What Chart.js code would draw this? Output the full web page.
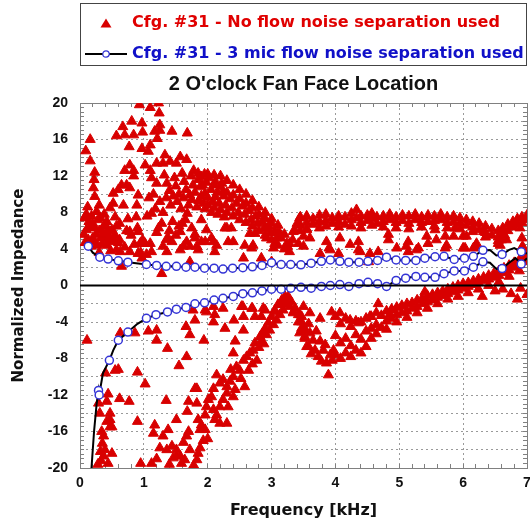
<!DOCTYPE html>
<html><head><meta charset="utf-8">
<script src="https://cdn.jsdelivr.net/npm/chart.js@4.4.1/dist/chart.umd.min.js"></script>
<style>html,body{margin:0;padding:0;background:#fff}</style>
</head><body>
<canvas id="c" width="530" height="523"></canvas>
<script>
// ---------- text ----------
const legendLabels = ["Cfg. #31 - No flow noise separation used", "Cfg. #31 - 3 mic flow noise separation used"];
const chartTitle = "2 O'clock Fan Face Location";
const xAxisTitle = "Frequency [kHz]";
const yAxisTitle = "Normalized Impedance";
const xTickValues = [0, 1, 2, 3, 4, 5, 6, 7];
const yTickValues = [-20, -16, -12, -8, -4, 0, 4, 8, 12, 16, 20];

// ---------- "No flow noise separation" (red triangles) [kHz, impedance] ----------
const noSepLowPos = [[0.09,14.75],[0.16,16.0],[0.16,13.65],[0.23,12.4],[0.22,11.6],[0.21,10.7],[0.23,9.75],[0.1,7.8],[0.07,7.4],[0.18,7.6],[0.2,6.8],[0.26,8.1],[0.28,7.2],[0.13,5.0],[0.1,6.1],[0.23,6.3],[0.34,6.1],[0.39,5.2],[0.42,4.4],[0.5,6.1],[0.52,5.2],[0.57,3.9],[0.6,4.7],[0.65,2.1],[0.78,5.9],[0.91,3.5],[0.97,3.0],[0.3,6.0],[0.33,5.2],[0.35,4.6],[0.37,6.5],[0.4,5.6],[0.42,7.0],[0.45,4.9],[0.48,3.8],[0.52,9.0],[0.52,10.1],[0.55,7.5],[0.6,10.5],[0.57,16.4],[0.65,11.0],[0.67,17.4],[0.7,16.5],[0.7,12.6],[0.73,11.0],[0.78,13.2],[0.78,10.7],[0.84,12.6],[0.84,12.0],[0.84,16.5],[0.81,18.0],[0.77,15.2],[0.68,8.8],[0.89,8.8],[0.91,9.9],[0.3,8.8],[0.38,7.8],[0.47,8.5],[0.62,6.8],[0.75,7.3],[0.8,5.5],[0.85,4.5],[0.9,6.3],[0.95,3.6],[0.98,5.0],[0.93,19.8],[0.97,17.8],[0.98,16.8],[0.97,15.0],[0.52,4.8],[0.57,6.5],[0.63,3.7],[0.78,3.7],[0.91,5.9],[0.94,4.6],[0.27,4.4],[0.2,5.2],[0.15,6.4],[0.12,8.6],[0.44,6.0],[0.55,5.5],[0.62,5.0],[0.7,4.2],[0.73,6.0],[0.88,7.5],[0.3,3.6],[0.25,5.6],[0.17,4.3],[0.06,5.6],[0.08,4.7],[0.14,7.0],[0.22,4.8],[0.32,7.4],[0.36,5.6],[0.4,6.6],[0.46,5.4]];
const noSepMidPos = [[1.1,19.5],[1.23,20],[1.24,18.9],[1.25,17.6],[1.25,17.0],[1.21,16.1],[1.17,16.9],[1.44,16.9],[1.68,16.7],[1.07,14.7],[1.1,15.4],[1.33,14.3],[1.41,13.6],[1.51,13.4],[1.57,14.1],[1.67,13.8],[1.3,13.4],[1.2,13.4],[1.02,13.2],[1.1,12.6],[1.32,12.1],[1.36,11.2],[1.4,10.4],[1.35,9.6],[1.42,8.8],[1.3,8.0],[1.48,11.8],[1.5,10.9],[1.55,10.0],[1.52,9.2],[1.58,8.4],[1.6,12.3],[1.63,11.4],[1.66,10.5],[1.62,9.6],[1.7,8.8],[1.68,7.9],[1.74,12.0],[1.77,11.0],[1.8,10.2],[1.75,9.4],[1.83,8.6],[1.85,11.6],[1.88,10.8],[1.9,9.8],[1.93,9.0],[1.95,12.2],[1.98,11.3],[1.2,11.2],[1.15,10.0],[1.25,9.2],[1.18,8.4],[1.08,9.6],[1.12,11.8],[1.05,7.6],[1.28,6.8],[1.45,7.0],[1.55,6.5],[1.65,7.2],[1.4,6.0],[1.5,5.5],[1.35,5.0],[1.2,5.8],[1.1,4.6],[1.04,3.4],[1.12,7.9],[1.23,6.3],[1.36,3.7],[1.44,4.8],[1.57,3.9],[1.67,4.8],[1.72,2.6],[1.8,5.6],[1.85,3.9],[1.9,4.8],[1.02,4.6],[1.12,3.7],[1.28,1.3],[1.3,4.3],[1.38,5.2],[1.57,5.9],[1.62,4.3],[1.72,4.3],[1.8,5.2],[1.83,4.3],[1.96,4.8],[1.98,6.1],[1.6,6.8],[1.75,6.3],[1.9,7.2],[1.46,9.8],[1.72,9.9],[1.86,9.3],[1.96,10.1],[1.78,12.6],[1.92,11.0],[1.85,12.3],[1.9,11.9],[2.02,11.8],[2.12,11.4],[2.22,11.2],[2.0,9.6],[2.12,9.7],[2.24,10.3],[1.96,8.4],[2.06,8.0],[2.16,7.8],[2.26,7.5]];
const noSepBandA = [[2.0,12.2],[2.1,12.1],[2.2,12.0],[2.3,11.5],[2.4,11.0],[2.5,10.5],[2.6,10.0],[2.7,9.3],[2.8,8.6],[2.9,8.0],[3.0,7.3],[3.1,6.6],[3.2,5.6],[3.28,4.6],[2.0,8.8],[2.1,8.5],[2.2,8.3],[2.3,8.0],[2.4,7.6],[2.5,7.2],[2.6,6.9],[2.7,6.5],[2.8,6.0],[2.9,5.5],[3.0,5.0],[3.1,4.4],[3.2,4.0],[3.28,3.7],[2.05,10.5],[2.15,10.2],[2.25,9.8],[2.35,9.5],[2.45,9.0],[2.55,8.7],[2.65,8.2],[2.75,7.6],[2.85,7.0],[2.95,6.5],[3.05,6.0],[3.15,5.2],[3.25,4.3],[2.1,11.0],[2.2,10.8],[2.3,10.2],[2.4,9.9],[2.5,9.5],[2.6,9.0],[2.7,8.5],[2.8,7.8],[2.9,7.3],[3.0,6.8],[3.1,5.8],[2.08,9.2],[2.18,9.0],[2.28,8.8],[2.38,8.5],[2.48,8.0],[2.58,7.8],[2.68,7.2],[2.78,6.8],[2.88,6.2],[2.98,5.8],[3.08,5.2],[3.33,5.0],[3.36,6.0],[3.4,6.8],[3.44,7.4],[2.06,5.2],[2.14,4.4],[2.3,6.3],[2.32,4.8],[2.56,3.0],[2.58,4.4],[2.71,4.4],[2.74,5.7],[2.9,6.3],[3.05,4.6],[3.13,5.7],[3.24,4.6],[3.34,5.9],[3.42,4.6],[2.09,4.8],[2.11,3.7],[2.27,6.3],[2.37,6.3],[2.4,4.8],[2.66,5.7],[2.69,4.1],[2.84,3.0],[3.0,2.6],[3.03,4.1],[2.92,5.2]];
const noSepBandB = [[3.45,7.5],[3.45,6.6],[3.45,6.0],[3.55,7.6],[3.55,6.9],[3.55,6.2],[3.65,7.3],[3.65,6.7],[3.75,7.7],[3.75,7.0],[3.75,6.3],[3.85,7.8],[3.85,7.1],[3.85,6.5],[3.95,7.4],[3.95,6.8],[4.05,7.6],[4.05,7.0],[4.05,6.4],[4.15,7.5],[4.15,6.7],[4.25,7.9],[4.25,7.2],[4.25,6.5],[4.33,8.3],[4.33,7.4],[4.4,7.6],[4.4,6.9],[4.4,6.3],[4.5,7.7],[4.5,7.1],[4.57,7.9],[4.57,7.3],[4.57,6.6],[4.65,7.5],[4.65,6.8],[4.75,7.6],[4.75,7.0],[4.75,6.4],[4.85,7.8],[4.85,7.2],[4.95,7.5],[4.95,6.9],[4.95,6.3],[5.05,7.7],[5.05,7.1],[5.15,7.6],[5.15,6.8],[5.15,6.2],[5.25,7.8],[5.25,7.2],[5.35,7.5],[5.35,6.9],[5.35,6.4],[5.45,7.7],[5.45,7.0],[5.55,7.6],[5.55,7.1],[5.55,6.5],[5.65,7.8],[5.65,7.2],[5.75,7.5],[5.75,6.9],[5.75,6.3],[5.85,7.6],[5.85,7.0],[5.95,7.4],[5.95,6.8],[5.95,6.2],[6.05,7.2],[6.05,6.6],[6.15,7.0],[6.15,6.4],[6.15,5.9],[6.25,6.8],[6.25,6.1],[6.35,6.5],[6.35,5.8],[6.35,5.3],[6.45,6.2],[6.45,5.5],[6.55,6.0],[6.55,5.3],[6.55,4.9],[6.62,6.3],[6.62,5.6],[6.7,6.7],[6.7,6.0],[6.78,7.0],[6.78,6.4],[6.85,7.3],[6.85,6.7],[6.92,7.5],[6.92,6.9],[7.0,7.7],[7.0,7.2]];
const noSepSparseHi = [[3.5,5.4],[3.55,6.1],[3.6,5.2],[3.76,3.5],[3.86,4.8],[3.9,4.1],[4.05,3.5],[4.23,4.5],[4.36,4.8],[4.39,3.7],[4.52,2.6],[4.67,3.7],[4.83,5.6],[4.96,4.1],[5.14,4.8],[5.14,3.7],[5.27,3.9],[5.43,5.4],[5.45,4.6],[5.56,6.1],[5.58,5.0],[5.72,5.4],[5.72,4.1],[5.85,5.4],[5.87,6.3],[6.0,5.4],[6.03,4.1],[6.16,4.1],[6.21,4.6],[6.6,5.0],[6.63,5.6],[6.89,6.3],[6.92,5.2],[6.93,4.3],[3.5,4.3],[3.92,3.9],[4.07,5.2],[4.36,3.9],[4.54,3.5],[4.83,5.0],[5.11,4.3],[5.3,4.1],[5.74,4.4],[6.0,4.1],[6.05,5.4],[6.19,4.3],[6.58,4.4],[6.65,5.5],[6.92,4.1],[6.32,5.9],[6.55,4.6],[6.68,5.0]];
const noSepLowNeg = [[0.11,-6.0],[0.29,-12.9],[0.31,-14.0],[0.34,-16.0],[0.37,-16.5],[0.35,-17.3],[0.39,-18.0],[0.37,-18.7],[0.5,-18.4],[0.44,-19.5],[0.42,-14.9],[0.47,-14.0],[0.47,-14.7],[0.47,-15.5],[0.44,-11.9],[0.42,-12.7],[0.6,-9.2],[0.62,-12.4],[0.77,-12.7],[0.9,-14.9],[0.95,-19.5],[0.5,-15.5],[0.33,-19.2],[0.4,-9.6],[0.55,-9.3],[0.32,-18.2],[0.28,-19.6]];
const noSepMidNeg = [[1.17,-15.3],[1.15,-16.2],[1.12,-19.5],[1.3,-16.5],[1.38,-15.8],[1.36,-18.0],[1.44,-17.6],[1.51,-18.0],[1.51,-14.7],[1.51,-18.7],[1.59,-19.5],[1.67,-16.5],[1.7,-16.0],[1.72,-18.0],[1.85,-18.4],[1.88,-17.8],[1.83,-19.1],[1.57,-18.7],[1.46,-18.9],[1.64,-19.1],[1.25,-17.8],[1.2,-19.0],[1.4,-19.6],[1.62,-17.2],[1.78,-19.7],[1.7,-12.7],[1.68,-13.8],[1.8,-11.3],[1.83,-12.9],[1.85,-14.7],[1.88,-15.8],[1.9,-15.3],[1.96,-14.2],[1.98,-13.3],[2.01,-12.5],[2.06,-12.2],[2.09,-13.6],[2.11,-14.7],[2.14,-14.2],[2.19,-13.3],[2.24,-12.5],[2.3,-11.8],[2.32,-13.3],[2.09,-11.3],[2.14,-9.8],[2.19,-10.7],[2.24,-10.3],[2.3,-11.1],[2.35,-10.5],[2.4,-10.0],[2.43,-11.4],[2.45,-8.9],[2.5,-9.3],[2.56,-8.2],[2.61,-7.8],[2.66,-7.4],[2.71,-7.1],[2.77,-8.2],[2.64,-9.3],[2.58,-11.1],[2.4,-12.2],[2.3,-15.1],[2.19,-15.1],[1.96,-15.8],[2.0,-16.8],[1.93,-17.0],[2.52,-10.2],[2.36,-9.2],[2.7,-8.6],[2.82,-5.6],[2.86,-5.2],[2.9,-4.7],[2.95,-4.1],[3.0,-3.4],[3.05,-2.9],[3.1,-2.1],[3.16,-1.6],[3.21,-1.2],[3.26,-1.2],[3.31,-1.8],[3.37,-2.5],[3.42,-3.2],[3.47,-4.0],[3.52,-4.9],[2.84,-6.1],[2.92,-5.4],[2.97,-4.9],[3.03,-4.3],[3.08,-3.8],[3.13,-3.2],[3.18,-2.7],[3.24,-2.1],[3.29,-2.3],[3.34,-3.0],[3.42,-4.0],[3.47,-4.7],[3.52,-5.8],[3.44,-5.2],[3.58,-6.7],[2.8,-6.8],[2.88,-6.4],[2.74,-6.3]];
const noSepHiNeg = [[3.5,-2.3],[3.47,-3.4],[3.5,-4.5],[3.52,-5.6],[3.55,-6.7],[3.6,-5.2],[3.65,-6.0],[3.68,-7.1],[3.76,-3.6],[3.6,-3.0],[3.76,-6.1],[3.81,-7.1],[3.86,-8.5],[3.89,-9.8],[3.92,-7.6],[3.94,-2.9],[3.97,-7.1],[3.58,-4.2],[3.7,-5.0],[3.73,-7.8],[3.84,-6.5],[3.95,-8.2],[3.62,-7.5],[3.78,-8.3],[4.07,-3.0],[4.23,-3.8],[4.36,-4.1],[4.54,-3.4],[4.67,-2.0],[4.85,-3.2],[4.88,-2.7],[5.4,-0.7],[4.0,-3.4],[4.0,-5.5],[4.0,-7.6],[4.08,-4.2],[4.08,-6.3],[4.08,-8.0],[4.16,-3.6],[4.16,-5.8],[4.16,-7.4],[4.24,-4.5],[4.24,-6.6],[4.24,-7.8],[4.32,-3.9],[4.32,-5.4],[4.32,-7.1],[4.4,-4.0],[4.4,-5.9],[4.4,-7.4],[4.48,-3.6],[4.48,-5.0],[4.48,-6.7],[4.56,-3.4],[4.56,-4.7],[4.56,-5.8],[4.64,-3.0],[4.64,-4.3],[4.64,-5.3],[4.72,-3.3],[4.72,-4.6],[4.8,-2.8],[4.8,-3.9],[4.8,-4.8],[4.88,-2.6],[4.88,-3.6],[4.96,-2.4],[4.96,-3.2],[4.96,-4.0],[5.04,-2.2],[5.04,-3.0],[5.12,-2.0],[5.12,-2.8],[5.12,-3.5],[5.2,-1.9],[5.2,-2.5],[5.28,-1.6],[5.28,-2.3],[5.28,-3.0],[5.36,-1.4],[5.36,-2.0],[5.44,-1.1],[5.44,-1.8],[5.44,-2.5],[5.52,-1.0],[5.52,-1.6],[5.6,-0.8],[5.6,-1.3],[5.6,-2.0],[5.68,-0.6],[5.68,-1.1],[5.76,-0.4],[5.76,-0.9],[5.76,-1.5],[5.84,-0.2],[5.84,-0.7],[5.92,0.0],[5.92,-0.5],[5.92,-1.2],[6.0,0.2],[6.0,-0.3],[6.08,0.3],[6.08,-0.1],[6.08,-0.8],[6.16,0.5],[6.16,0.1],[6.24,0.7],[6.24,0.3],[6.24,-0.4],[6.32,0.9],[6.32,0.5],[6.4,1.1],[6.4,0.7],[6.4,0.0],[6.48,1.3],[6.48,0.9],[6.56,1.6],[6.56,1.1],[6.56,0.4],[6.64,1.9],[6.64,1.4],[6.72,2.2],[6.72,1.7],[6.72,1.0],[6.8,2.5],[6.8,2.0],[6.88,2.8],[6.88,2.3],[6.88,1.6],[6.96,3.2],[6.96,2.6],[7.0,3.5],[7.0,3.0],[6.5,-0.6],[6.62,-0.4],[6.75,-0.9],[6.9,-0.3],[7.0,-1.0],[6.3,-1.2],[6.85,-1.5]];
const noSepScatterNeg = [[0.86,-5.2],[1.07,-5.0],[1.2,-4.9],[1.2,-6.0],[1.37,-6.9],[1.66,-4.5],[1.77,-2.7],[1.8,-3.8],[1.98,-2.9],[2.09,-4.0],[2.11,-3.2],[2.27,-4.7],[2.41,-3.8],[2.43,-6.1],[2.56,-4.9],[2.55,-2.3],[2.7,-2.5],[2.74,-3.4],[2.87,-2.5],[2.84,-3.4],[2.4,-7.4],[1.67,-7.8],[1.83,-11.3],[0.63,-5.2],[1.72,-5.4],[1.94,-6.0],[1.96,-2.7],[2.09,-2.3],[2.24,-2.5],[2.53,-2.3],[2.69,-2.5],[2.56,-3.4],[2.9,-2.7],[3.05,-2.7],[3.13,-2.1],[3.24,-1.8],[3.34,-2.9],[3.44,-3.2],[0.9,-9.5],[1.02,-10.8],[1.35,-12.6],[1.55,-8.8]];

// ---------- "3 mic flow noise separation" (blue circles on black line) ----------
const micResistance = [[0.13,4.3],[0.31,3.1],[0.44,2.9],[0.6,2.7],[0.75,2.55],[1.04,2.3],[1.2,2.2],[1.35,2.1],[1.51,2.1],[1.66,2.0],[1.8,2.0],[1.95,1.9],[2.1,1.9],[2.24,1.8],[2.39,1.9],[2.55,1.95],[2.7,2.05],[2.85,2.2],[3.0,2.5],[3.15,2.3],[3.3,2.3],[3.46,2.27],[3.62,2.45],[3.78,2.65],[3.92,2.8],[4.07,2.65],[4.21,2.55],[4.37,2.55],[4.51,2.65],[4.66,2.75],[4.8,3.1],[4.95,2.8],[5.1,2.75],[5.26,2.75],[5.4,3.0],[5.56,3.15],[5.7,3.2],[5.86,2.85],[6.02,3.0],[6.16,3.2],[6.31,3.85],[6.61,3.4],[6.91,3.7]];
const micResistanceLineOnly = [[0.1,4.6],[0.2,3.6],[6.42,3.9],[6.52,3.3],[6.72,3.9],[6.8,4.1],[7.0,3.5]];
const micReactance = [[0.29,-11.5],[0.3,-12.0],[0.46,-8.2],[0.6,-6.0],[0.75,-5.1],[1.04,-3.6],[1.19,-3.2],[1.37,-2.9],[1.51,-2.6],[1.66,-2.4],[1.8,-2.0],[1.95,-1.9],[2.1,-1.6],[2.24,-1.4],[2.4,-1.2],[2.55,-0.9],[2.7,-0.8],[2.85,-0.6],[3.0,-0.4],[3.15,-0.4],[3.3,-0.3],[3.46,-0.2],[3.62,-0.3],[3.78,-0.1],[3.92,0.0],[4.07,0.1],[4.21,-0.1],[4.37,0.2],[4.51,0.35],[4.66,0.2],[4.8,-0.1],[4.95,0.55],[5.1,0.8],[5.26,1.0],[5.4,0.9],[5.56,0.9],[5.7,1.3],[5.86,1.6],[6.02,1.6],[6.16,2.0],[6.31,2.6],[6.61,1.85],[6.91,2.35]];
const micReactanceLineOnly = [[0.18,-20],[0.22,-16],[0.26,-13],[0.36,-9.6],[0.52,-7.1],[0.9,-4.2],[6.42,2.5],[6.52,1.8],[6.72,2.5],[6.82,3.0],[7.0,3.0]];
const zeroLine = [[0, 0], [7, 0]];

// ---------- build ----------
const RED = '#d80000', BLUE = '#3434d6';
const toXY = a => a.map(p => ({x: p[0], y: p[1]}));
const byX = a => a.slice().sort((p, q) => p[0] - q[0]);
const noSepAll = [].concat(noSepLowPos, noSepMidPos, noSepBandA, noSepBandB, noSepSparseHi, noSepLowNeg, noSepMidNeg, noSepHiNeg, noSepScatterNeg);

function triIcon() {
  const c = document.createElement('canvas'); c.width = 12; c.height = 10;
  const g = c.getContext('2d'); g.fillStyle = RED;
  g.beginPath(); g.moveTo(6, 0.5); g.lineTo(11.5, 9.5); g.lineTo(0.5, 9.5); g.closePath(); g.fill();
  return c;
}
function micIcon() {
  const c = document.createElement('canvas'); c.width = 42; c.height = 10;
  const g = c.getContext('2d');
  g.strokeStyle = '#000'; g.lineWidth = 2; g.beginPath(); g.moveTo(0, 5); g.lineTo(42, 5); g.stroke();
  g.beginPath(); g.arc(21, 5, 3.2, 0, Math.PI * 2); g.fillStyle = '#fff'; g.fill();
  g.strokeStyle = BLUE; g.lineWidth = 1.2; g.stroke();
  return c;
}
const TRI = triIcon(), MIC = micIcon();

const isNear = (v, list) => list.some(t => Math.abs(v - t) < 1e-6);
const tickFont = {family: "'Liberation Sans', Arial, sans-serif", weight: 'bold', size: 14};

const boxPlacer = {
  id: 'boxPlacer',
  afterLayout(chart) {
    const a = chart.chartArea;
    const lg = chart.legend;
    const dx = a.left + 8 - (lg.left + lg.options.labels.padding);
    lg.left += dx; lg.right += dx;
    const tb = chart.titleBlock;
    if (tb) { tb.left = a.left; tb.right = a.right; }
  },
  afterDraw(chart) {
    const lg = chart.legend, a = chart.chartArea, g = chart.ctx;
    g.save(); g.strokeStyle = '#444'; g.lineWidth = 1;
    g.strokeRect(Math.round(a.left) + 0.5, lg.top + 3.5, Math.round(a.right - a.left) - 1, lg.bottom - lg.top - 10);
    g.restore();
  }
};

const minorTickGrid = (majorStep) => ({
  color: c => (c.tick && Math.abs(c.tick.value / majorStep - Math.round(c.tick.value / majorStep)) < 1e-6) ? '#9a9a9a' : 'rgba(0,0,0,0)',
  lineWidth: 1, tickLength: -4, tickColor: '#808080', tickWidth: 1
});

new Chart(document.getElementById('c'), {
  type: 'scatter',
  data: {datasets: [
    {label: legendLabels[0], data: toXY(noSepAll), pointStyle: 'triangle', pointRadius: 5.8,
     backgroundColor: RED, borderColor: RED, borderWidth: 1, order: 5},
    {label: 'res line', data: toXY(byX(micResistance.concat(micResistanceLineOnly))), showLine: true,
     borderColor: '#000', borderWidth: 2, pointRadius: 0, order: 3},
    {label: 'react line', data: toXY(byX(micReactance.concat(micReactanceLineOnly))), showLine: true,
     borderColor: '#000', borderWidth: 2, pointRadius: 0, order: 3},
    {label: legendLabels[1], data: toXY(micResistance.concat(micReactance)), pointStyle: 'circle', pointRadius: 4,
     backgroundColor: '#fff', borderColor: BLUE, borderWidth: 1.5, order: 2},
    {label: 'zero', data: toXY(zeroLine), showLine: true, borderColor: '#000', borderWidth: 2, pointRadius: 0, order: 1}
  ]},
  options: {
    responsive: false, animation: false, events: [],
    layout: {autoPadding: false, padding: {left: 2, right: 3, top: 0, bottom: 1}},
    plugins: {
      legend: {
        display: true, position: 'top', align: 'start', weight: 3000,
        labels: {
          usePointStyle: true, pointStyleWidth: 36, padding: 15,
          font: {family: "'DejaVu Sans', Verdana, sans-serif", weight: 'bold', size: 16},
          generateLabels: () => [
            {text: legendLabels[0], fontColor: '#e00000', pointStyle: TRI, datasetIndex: 0, hidden: false, lineWidth: 0, strokeStyle: 'rgba(0,0,0,0)', fillStyle: RED},
            {text: legendLabels[1], fontColor: '#1010c8', pointStyle: MIC, datasetIndex: 3, hidden: false, lineWidth: 0, strokeStyle: 'rgba(0,0,0,0)', fillStyle: BLUE}
          ]
        }
      },
      title: {display: true, text: chartTitle, color: '#111',
        font: {family: "'Liberation Sans', Arial, sans-serif", weight: 'bold', size: 20},
        padding: {top: 0, bottom: 7}},
      tooltip: {enabled: false}
    },
    scales: {
      x: {type: 'linear', position: 'bottom', min: 0, max: 7,
        ticks: {stepSize: 0.2, autoSkip: false, maxRotation: 0, padding: 11, color: '#111', font: tickFont,
          callback: v => isNear(v, xTickValues) ? String(Math.round(v)) : ''},
        grid: minorTickGrid(1), border: {color: '#808080', dash: [2, 3]},
        title: {display: true, text: xAxisTitle, color: '#111',
          font: {family: "'DejaVu Sans', Verdana, sans-serif", weight: 'bold', size: 16}, padding: {top: 4, bottom: 1.5}},
        afterFit: s => { s.height = 54; s.paddingLeft = 0; s.paddingRight = 0; }},
      y: {type: 'linear', position: 'left', min: -20, max: 20,
        ticks: {stepSize: 0.5, autoSkip: false, padding: 16, color: '#111', font: tickFont,
          callback: v => isNear(v, yTickValues) ? String(Math.round(v)) : ''},
        grid: minorTickGrid(2), border: {color: '#808080', dash: [2, 3]},
        title: {display: true, text: yAxisTitle, color: '#111',
          font: {family: "'DejaVu Sans', Verdana, sans-serif", weight: 'bold', size: 15}, padding: {top: 8, bottom: 0}},
        afterFit: s => { s.width = 78; s.paddingTop = 0; s.paddingBottom = 0; }},
      xTop: {type: 'linear', position: 'top', min: 0, max: 7,
        ticks: {display: false, stepSize: 0.2, autoSkip: false},
        grid: {drawOnChartArea: false, tickLength: -4, tickColor: '#808080'}, border: {color: '#808080'},
        afterFit: s => { s.height = 0; s.paddingLeft = 0; s.paddingRight = 0; }},
      yRight: {type: 'linear', position: 'right', min: -20, max: 20,
        ticks: {display: false, stepSize: 0.5, autoSkip: false},
        grid: {drawOnChartArea: false, tickLength: -4, tickColor: '#808080'}, border: {color: '#808080'},
        afterFit: s => { s.width = 0; s.paddingTop = 0; s.paddingBottom = 0; }}
    }
  },
  plugins: [boxPlacer]
});
</script>
</body></html>
